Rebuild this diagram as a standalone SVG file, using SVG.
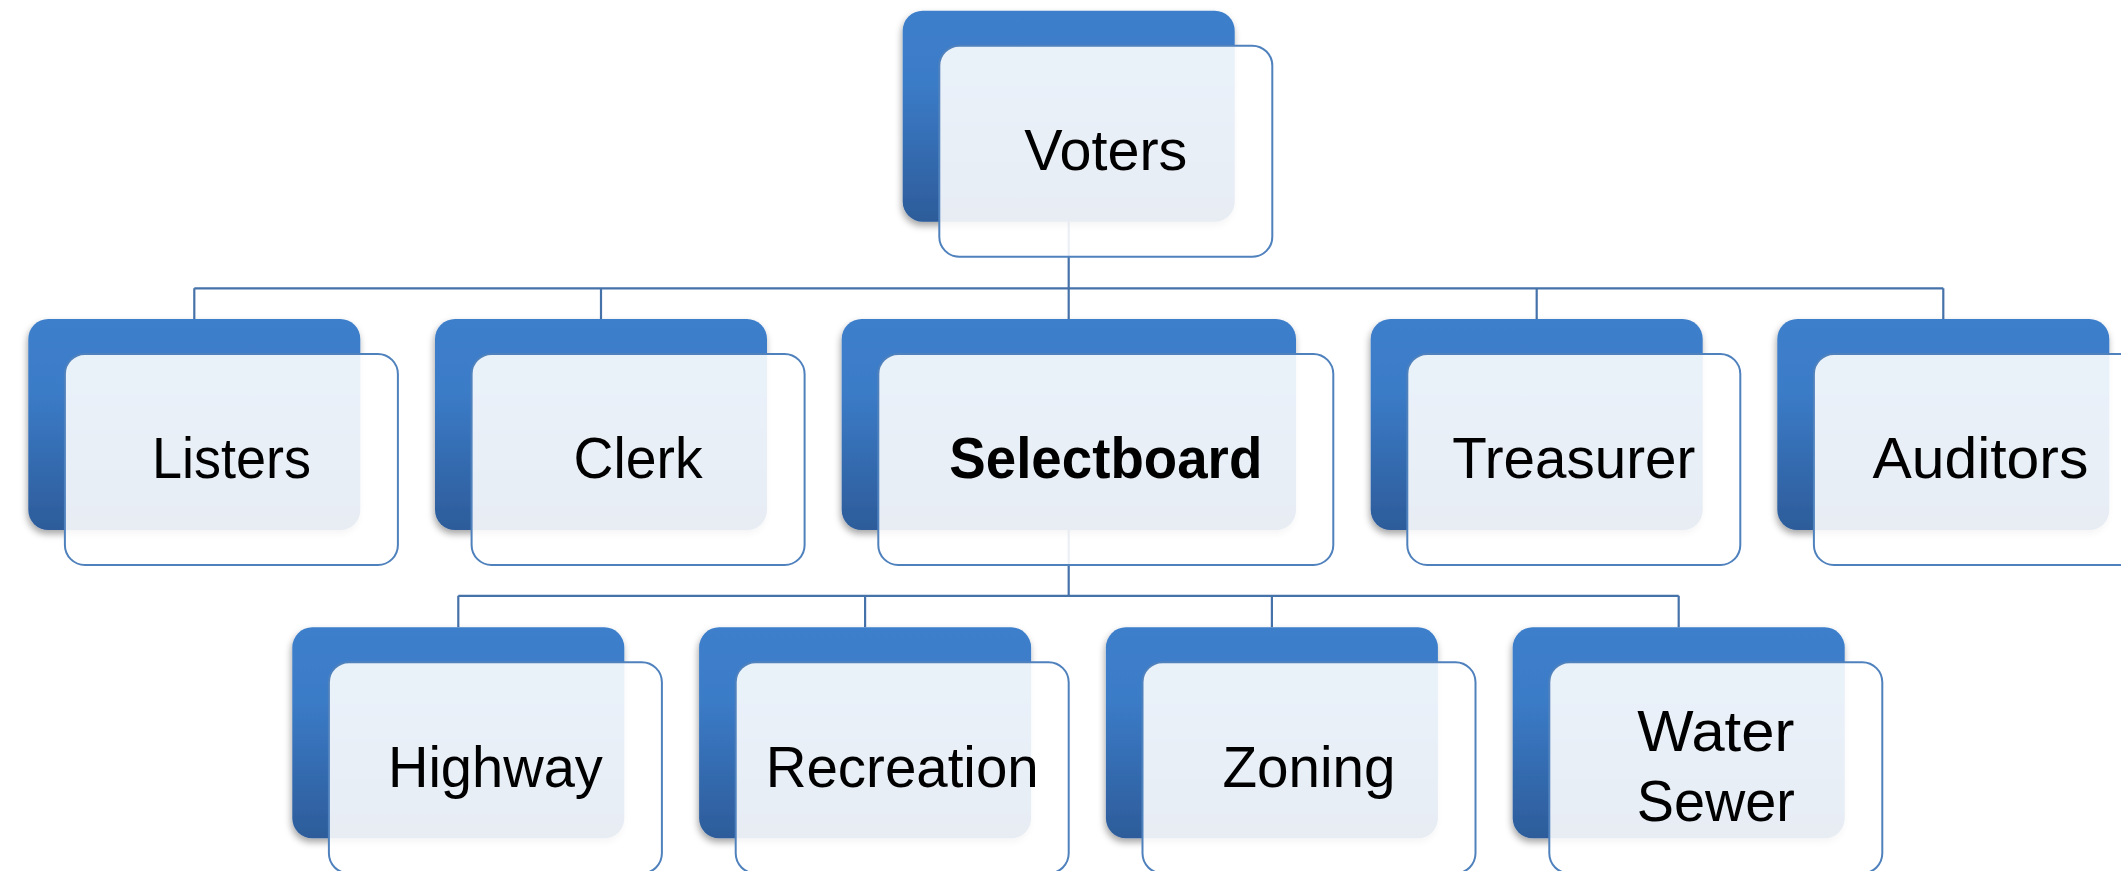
<svg xmlns="http://www.w3.org/2000/svg" width="2121" height="871" viewBox="0 0 2121 871">
<defs>
<linearGradient id="blueGrad" x1="0" y1="0" x2="0" y2="1">
<stop offset="0" stop-color="#3D7FCB"/>
<stop offset="0.35" stop-color="#3B7BC7"/>
<stop offset="1" stop-color="#2D5C9A"/>
</linearGradient>
<filter id="shadow" x="-10%" y="-10%" width="125%" height="130%">
<feDropShadow dx="-1" dy="4" stdDeviation="3.5" flood-color="#000" flood-opacity="0.35"/>
</filter>
</defs>
<style>
.back{fill:url(#blueGrad);filter:url(#shadow);}
.front{fill:#FFFFFF;fill-opacity:0.89;stroke:#4F81BD;stroke-width:2;}
.conn{fill:none;stroke:#4672AA;stroke-width:2.2;}
.lbl{font-family:"Liberation Sans",Arial,sans-serif;font-size:58px;fill:#000;text-anchor:middle;}
.bold{font-weight:bold;}
</style>
<rect width="2121" height="871" fill="#FFFFFF"/>
<g id="connectors">
<path class="conn" d="M1068.7,221.7 V288.3 M194.3,288.3 H1943.3 M194.3,288.3 V319 M601,288.3 V319 M1068.7,288.3 V319 M1536.7,288.3 V319 M1943.3,288.3 V319"/>
<path class="conn" d="M1068.7,530 V595.8 M458.3,595.8 H1678.7 M458.3,595.8 V627.3 M865.1,595.8 V627.3 M1271.9,595.8 V627.3 M1678.7,595.8 V627.3"/>
</g>
<g id="voters">
<rect class="back" x="902.7" y="10.7" width="332" height="211" rx="20"/>
<rect class="front" x="939.3" y="45.7" width="333" height="211" rx="20"/>
<text class="lbl" x="1105.8" y="170" textLength="163" lengthAdjust="spacingAndGlyphs">Voters</text>
</g>
<g id="listers">
<rect class="back" x="28.3" y="319" width="332" height="211" rx="20"/>
<rect class="front" x="64.9" y="354" width="333" height="211" rx="20"/>
<text class="lbl" x="231.4" y="478.3" textLength="159" lengthAdjust="spacingAndGlyphs">Listers</text>
</g>
<g id="clerk">
<rect class="back" x="435" y="319" width="332" height="211" rx="20"/>
<rect class="front" x="471.6" y="354" width="333" height="211" rx="20"/>
<text class="lbl" x="638.1" y="478.3" textLength="129" lengthAdjust="spacingAndGlyphs">Clerk</text>
</g>
<g id="selectboard">
<rect class="back" x="841.7" y="319" width="454.3" height="211" rx="20"/>
<rect class="front" x="878.3" y="354" width="455" height="211" rx="20"/>
<text class="lbl bold" x="1105.8" y="478.3" textLength="313" lengthAdjust="spacingAndGlyphs">Selectboard</text>
</g>
<g id="treasurer">
<rect class="back" x="1370.7" y="319" width="332" height="211" rx="20"/>
<rect class="front" x="1407.3" y="354" width="333" height="211" rx="20"/>
<text class="lbl" x="1573.8" y="478.3" textLength="243" lengthAdjust="spacingAndGlyphs">Treasurer</text>
</g>
<g id="auditors">
<rect class="back" x="1777.3" y="319" width="332" height="211" rx="20"/>
<rect class="front" x="1813.9" y="354" width="333" height="211" rx="20"/>
<text class="lbl" x="1980.4" y="478.3" textLength="216" lengthAdjust="spacingAndGlyphs">Auditors</text>
</g>
<g id="highway">
<rect class="back" x="292.3" y="627.3" width="332" height="211" rx="20"/>
<rect class="front" x="328.9" y="662.3" width="333" height="211" rx="20"/>
<text class="lbl" x="495.4" y="786.5" textLength="215" lengthAdjust="spacingAndGlyphs">Highway</text>
</g>
<g id="recreation">
<rect class="back" x="699.1" y="627.3" width="332" height="211" rx="20"/>
<rect class="front" x="735.7" y="662.3" width="333" height="211" rx="20"/>
<text class="lbl" x="902.2" y="786.5" textLength="273" lengthAdjust="spacingAndGlyphs">Recreation</text>
</g>
<g id="zoning">
<rect class="back" x="1105.9" y="627.3" width="332" height="211" rx="20"/>
<rect class="front" x="1142.5" y="662.3" width="333" height="211" rx="20"/>
<text class="lbl" x="1309" y="786.5" textLength="173" lengthAdjust="spacingAndGlyphs">Zoning</text>
</g>
<g id="water-sewer">
<rect class="back" x="1512.7" y="627.3" width="332" height="211" rx="20"/>
<rect class="front" x="1549.3" y="662.3" width="333" height="211" rx="20"/>
<text class="lbl" x="1715.8" y="751" textLength="157" lengthAdjust="spacingAndGlyphs">Water</text>
<text class="lbl" x="1715.8" y="820.7" textLength="158" lengthAdjust="spacingAndGlyphs">Sewer</text>
</g>
</svg>
